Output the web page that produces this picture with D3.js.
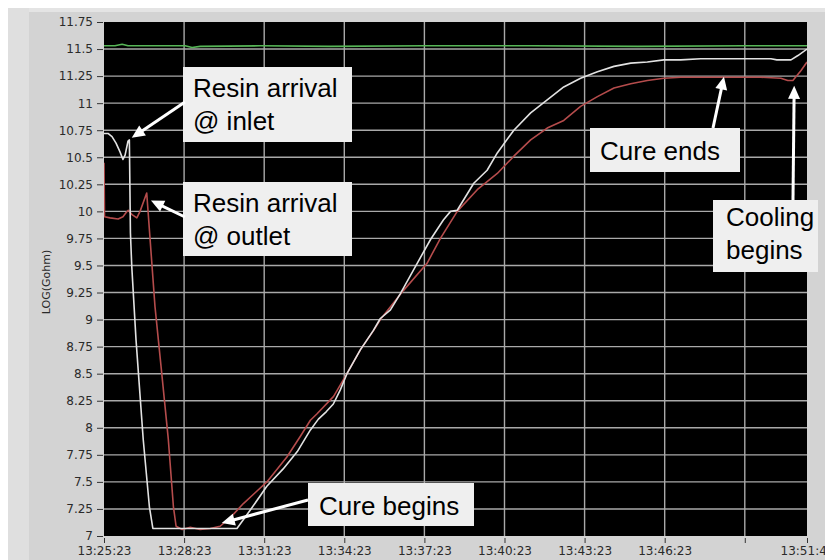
<!DOCTYPE html>
<html>
<head>
<meta charset="utf-8">
<script src="https://cdn.jsdelivr.net/npm/d3@7"></script>
<style>
  body { margin: 0; background: #fff; }
  svg { display: block; }
  .axis text { font-family: "DejaVu Sans", Verdana, sans-serif; font-size: 12px; fill: #2a2a2a; }
  .axis path { display: none; }
  .axis line { stroke: #333; }
  .note { font-family: "Liberation Sans", Arial, sans-serif; font-size: 26px; fill: #000; }
</style>
</head>
<body>
<div id="chart"></div>
<script>
// minutes after 13:25:23, and LOG(Gohm)
var whiteMin = [0, 0.15, 0.30, 0.45, 0.60, 0.71, 0.79, 0.90, 0.95, 0.99, 1.04, 1.20, 1.47, 1.70, 1.83, 2.85, 3.98, 4.98,
    5.48, 6.10, 6.71, 7.24, 7.73, 8.03, 8.33, 8.59, 8.85, 9.10, 9.60, 10.09, 10.35, 10.73, 11.10, 11.73, 12.23, 12.71,
    12.98, 13.23, 13.85, 14.35, 14.73, 15.35, 15.98, 16.60, 17.22, 17.85, 18.48, 19.10, 19.73, 20.35, 20.97, 21.60,
    22.35, 24.04, 24.98, 25.20, 25.73, 25.99, 26.33];
var whiteVal = [10.72, 10.72, 10.69, 10.63, 10.55, 10.48, 10.52, 10.65, 10.66, 9.80, 9.49, 8.81, 7.89, 7.27, 7.07, 7.07, 7.07, 7.07,
    7.24, 7.46, 7.62, 7.78, 7.98, 8.08, 8.15, 8.22, 8.35, 8.50, 8.72, 8.90, 9.01, 9.09, 9.24, 9.52, 9.74, 9.92,
    10.00, 10.01, 10.26, 10.38, 10.54, 10.75, 10.91, 11.03, 11.15, 11.23, 11.29, 11.34, 11.37, 11.38, 11.40, 11.40,
    11.41, 11.41, 11.41, 11.40, 11.40, 11.44, 11.50];

var redMin = [0, 0.02, 0.23, 0.53, 0.71, 0.83, 0.91, 1.05, 1.23, 1.35, 1.60, 1.73, 1.91, 2.16, 2.41, 2.60, 2.70, 2.93, 3.23,
    3.60, 3.98, 4.35, 4.73, 5.22, 5.66, 6.10, 6.85, 7.35, 7.73, 7.98, 8.60, 9.10, 9.60, 10.10, 10.35, 11.22, 12.10,
    12.60, 13.23, 13.98, 14.73, 15.35, 15.98, 16.60, 17.22, 17.85, 18.48, 19.10, 19.73, 20.35, 20.97, 21.60, 23.10,
    24.60, 25.35, 25.61, 25.80, 26.10, 26.33];
var redVal = [10.45, 9.95, 9.94, 9.93, 9.95, 9.99, 10.01, 9.97, 9.94, 10.00, 10.17, 9.73, 9.12, 8.51, 7.89, 7.27, 7.09, 7.06, 7.08,
    7.06, 7.07, 7.09, 7.17, 7.30, 7.40, 7.50, 7.73, 7.92, 8.07, 8.13, 8.29, 8.50, 8.72, 8.90, 9.00, 9.27, 9.52,
    9.75, 10.00, 10.20, 10.35, 10.51, 10.66, 10.77, 10.84, 10.97, 11.06, 11.14, 11.18, 11.21, 11.23, 11.24, 11.24,
    11.24, 11.23, 11.21, 11.21, 11.30, 11.38];

var greenMin = [0, 0.41, 0.68, 0.90, 3.04, 3.30, 3.60, 5.85, 8.48, 12.0, 16.0, 20.0, 24.0, 26.33];
var greenVal = [11.53, 11.53, 11.545, 11.53, 11.53, 11.515, 11.525, 11.53, 11.525, 11.53, 11.53, 11.525, 11.53, 11.53];

var tickMin = [0, 3, 6, 9, 12, 15, 18, 21, 24, 26.33];
var tickLabels = ["13:25:23", "13:28:23", "13:31:23", "13:34:23", "13:37:23", "13:40:23", "13:43:23", "13:46:23", "", "13:51:43"];
var yTicks = [7, 7.25, 7.5, 7.75, 8, 8.25, 8.5, 8.75, 9, 9.25, 9.5, 9.75, 10, 10.25, 10.5, 10.75, 11, 11.25, 11.5, 11.75];

var notes = [
    {lines: ["Resin arrival", "@ inlet"], box: [183, 67, 169, 75], tx: 193, ty: 97, tail: [185, 102], tipMin: 1.04, tipVal: 10.68},
    {lines: ["Resin arrival", "@ outlet"], box: [183, 182, 169, 74], tx: 193, ty: 212, tail: [185, 217], tipMin: 1.76, tipVal: 10.10},
    {lines: ["Cure ends"], box: [590, 128, 150, 44], tx: 600, ty: 160, tail: [713, 128], tipMin: 23.22, tipVal: 11.245},
    {lines: ["Cooling", "begins"], box: [713, 200, 105, 72], tx: 726, ty: 226, tail: [793, 200], tipMin: 25.85, tipVal: 11.16},
    {lines: ["Cure begins"], box: [308, 483, 166, 43], tx: 319, ty: 515, tail: [308, 500], tipMin: 4.41, tipVal: 7.12}
];

var width = 825, height = 560;
var plotL = 104, plotR = 807, plotT = 22, plotB = 536;

var t0 = new Date(2000, 0, 1, 13, 25, 23);
function toDate(m) { return new Date(t0.getTime() + m * 60000); }

var x = d3.scaleTime().domain([toDate(0), toDate(26.33)]).range([plotL, plotR]);
var y = d3.scaleLinear().domain([7, 11.75]).range([plotB, plotT]);

var svg = d3.select("#chart").append("svg")
    .attr("width", width)
    .attr("height", height);

// panel background
svg.append("rect").attr("x", 8).attr("y", 8).attr("width", width - 8).attr("height", height - 8).attr("fill", "#d3d3d3");
svg.append("rect").attr("x", 8).attr("y", 8).attr("width", width - 8).attr("height", 4).attr("fill", "#e4e4e4");
svg.append("rect").attr("x", 8).attr("y", 8).attr("width", 21).attr("height", height - 8).attr("fill", "#dfdfdf");

svg.append("rect")
    .attr("x", plotL).attr("y", plotT)
    .attr("width", plotR - plotL).attr("height", plotB - plotT)
    .attr("fill", "#000");

// grid
svg.append("g").selectAll("line")
    .data(yTicks.filter(function(d) { return d > 7 && d < 11.75; }))
    .enter().append("line")
    .attr("x1", plotL).attr("x2", plotR)
    .attr("y1", function(d) { return y(d); })
    .attr("y2", function(d) { return y(d); })
    .attr("stroke", "#a9a9a9").attr("stroke-width", 1.4);

svg.append("g").selectAll("line")
    .data(tickMin.filter(function(d) { return d > 0 && d < 26; }))
    .enter().append("line")
    .attr("y1", plotT).attr("y2", plotB)
    .attr("x1", function(d) { return x(toDate(d)); })
    .attr("x2", function(d) { return x(toDate(d)); })
    .attr("stroke", "#a9a9a9").attr("stroke-width", 1.4);

// axes
var yAxis = d3.axisLeft(y)
    .tickValues(yTicks)
    .tickSize(6)
    .tickPadding(4)
    .tickFormat(function(d) { return String(+d.toFixed(2)); });
svg.append("g").attr("class", "axis")
    .attr("transform", "translate(" + (plotL - 1) + ",0)")
    .call(yAxis);

var xAxis = d3.axisBottom(x)
    .tickValues(tickMin.map(toDate))
    .tickSize(5)
    .tickPadding(3)
    .tickFormat(function(d, i) { return tickLabels[i]; });
svg.append("g").attr("class", "axis")
    .attr("transform", "translate(0," + (plotB + 2) + ")")
    .call(xAxis);

svg.append("text")
    .attr("transform", "translate(50,282) rotate(-90)")
    .attr("text-anchor", "middle")
    .style("font-family", "DejaVu Sans, Verdana, sans-serif")
    .style("font-size", "11px")
    .style("fill", "#2a2a2a")
    .text("LOG(Gohm)");

// series
svg.append("clipPath").attr("id", "plotclip")
    .append("rect").attr("x", plotL).attr("y", plotT).attr("width", plotR - plotL).attr("height", plotB - plotT);

var line = d3.line()
    .x(function(d) { return x(toDate(d[0])); })
    .y(function(d) { return y(d[1]); });

var series = [
    {min: greenMin, val: greenVal, color: "#57b657"},
    {min: redMin, val: redVal, color: "#b54c4c"},
    {min: whiteMin, val: whiteVal, color: "#e2e2e2"}
];

svg.append("g").attr("clip-path", "url(#plotclip)")
    .selectAll("path")
    .data(series).enter().append("path")
    .attr("d", function(s) { return line(s.min.map(function(m, i) { return [m, s.val[i]]; })); })
    .attr("fill", "none")
    .attr("stroke", function(s) { return s.color; })
    .attr("stroke-width", 1.6)
    .attr("stroke-linejoin", "round");

// annotations
var gn = svg.selectAll("g.note-g")
    .data(notes).enter().append("g")
    .classed("note-g", true);

gn.append("rect")
    .attr("x", function(d) { return d.box[0]; })
    .attr("y", function(d) { return d.box[1]; })
    .attr("width", function(d) { return d.box[2]; })
    .attr("height", function(d) { return d.box[3]; })
    .attr("fill", "#efefef");

gn.each(function(d) {
    var g = d3.select(this);
    d.lines.forEach(function(l, i) {
        g.append("text").attr("class", "note")
            .attr("x", d.tx).attr("y", d.ty + i * 33)
            .text(l);
    });
    // arrow from box edge to the data feature
    var tx = x(toDate(d.tipMin)), ty = y(d.tipVal);
    var dx = tx - d.tail[0], dy = ty - d.tail[1];
    var len = Math.sqrt(dx * dx + dy * dy);
    var ux = dx / len, uy = dy / len;
    var hl = 13, hw = 6;
    var bx = tx - ux * hl, by = ty - uy * hl;
    g.append("line")
        .attr("x1", d.tail[0]).attr("y1", d.tail[1])
        .attr("x2", bx + ux * 2).attr("y2", by + uy * 2)
        .attr("stroke", "#fff").attr("stroke-width", 3);
    g.append("path")
        .attr("d", "M" + tx + "," + ty +
            "L" + (bx - uy * hw) + "," + (by + ux * hw) +
            "L" + (bx + uy * hw) + "," + (by - ux * hw) + "Z")
        .attr("fill", "#fff");
});
</script>
</body>
</html>
